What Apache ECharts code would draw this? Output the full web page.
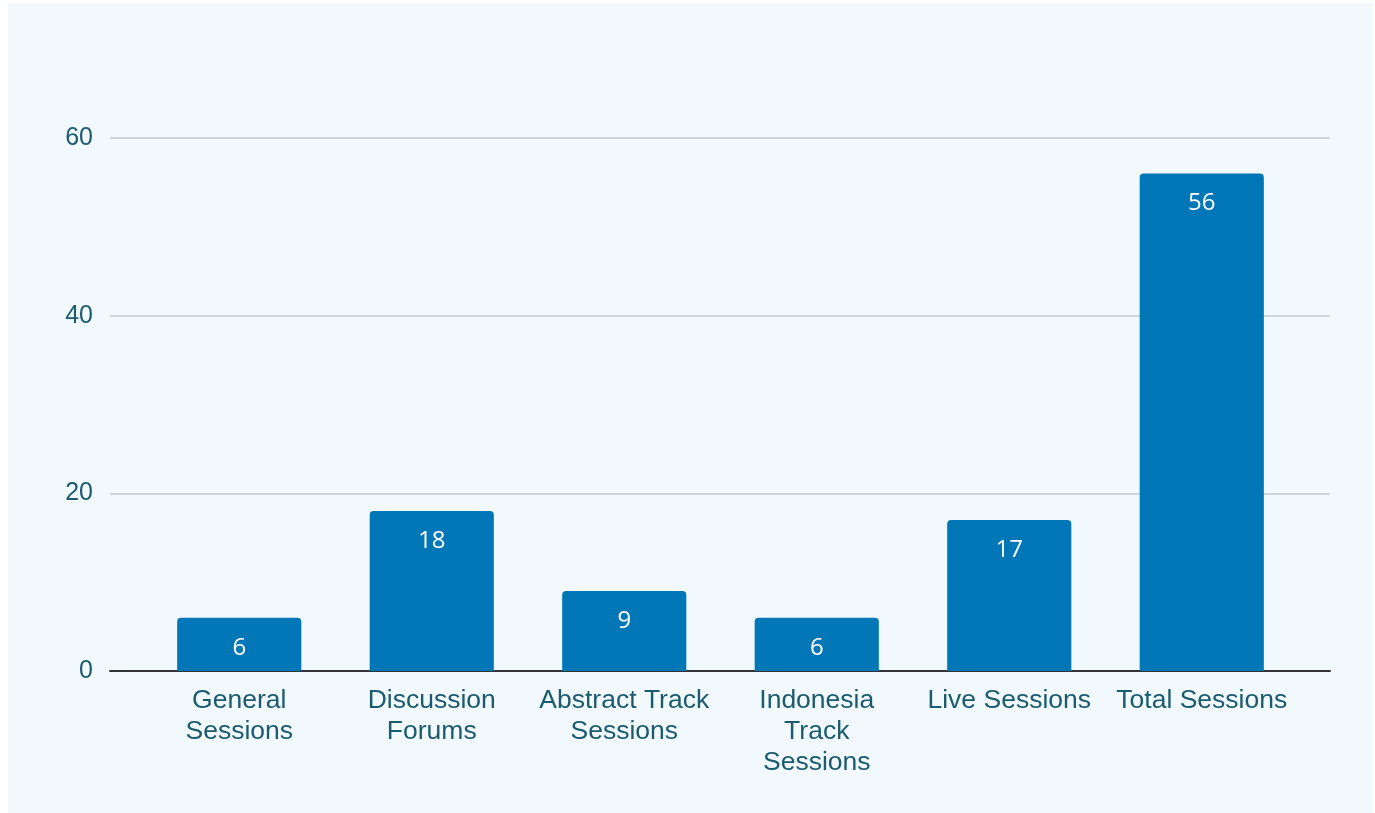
<!DOCTYPE html>
<html>
<head>
<meta charset="utf-8">
<script src="https://cdn.jsdelivr.net/npm/echarts@6/dist/echarts.min.js"></script>
<style>
html,body{margin:0;padding:0;background:#ffffff;}
#wrap{position:absolute;left:8px;top:3px;width:1365px;height:810px;background:#f2f9fd;}
#main{position:absolute;left:-8px;top:-3px;width:1375px;height:813px;}
</style>
</head>
<body>
<div id="wrap"><div id="main"></div></div>
<script>
const categories = ['General\nSessions', 'Discussion\nForums', 'Abstract Track\nSessions', 'Indonesia\nTrack\nSessions', 'Live Sessions', 'Total Sessions'];
const sessionCounts = [6, 18, 9, 6, 17, 56];
const yTicks = [0, 20, 40, 60];

const chart = echarts.init(document.getElementById('main'));
const textColor = '#1b5b70';
const labelFont = '"Liberation Sans", Arial, sans-serif';
chart.setOption({
  backgroundColor: 'transparent',
  animation: false,
  grid: [
    {left: 143, right: 77, top: 138, bottom: 142},
    {left: 110, right: 45, top: 138, bottom: 142}
  ],
  xAxis: [
    {
      type: 'category', gridIndex: 0, data: categories,
      axisLine: {show: false}, axisTick: {show: false},
      axisLabel: {color: textColor, fontSize: 26.5, lineHeight: 31, margin: 14, interval: 0, fontFamily: labelFont}
    },
    {
      type: 'category', gridIndex: 1, data: [''],
      axisLine: {show: true, lineStyle: {color: '#333333', width: 2}},
      axisTick: {show: false}, axisLabel: {show: false}
    }
  ],
  yAxis: [
    {type: 'value', gridIndex: 0, min: 0, max: 60, interval: 20, show: false, splitLine: {show: false}},
    {
      type: 'value', gridIndex: 1, min: yTicks[0], max: yTicks[yTicks.length - 1], interval: 20,
      axisLine: {show: false}, axisTick: {show: false},
      axisLabel: {color: textColor, fontSize: 25, margin: 17, fontFamily: labelFont},
      splitLine: {lineStyle: {color: '#c3c8cd', width: 1.5}}
    }
  ],
  series: [{
    type: 'bar', xAxisIndex: 0, yAxisIndex: 0,
    data: sessionCounts,
    barCategoryGap: '35.5%',
    itemStyle: {color: '#0277b8', borderRadius: [4, 4, 0, 0]},
    label: {show: true, position: 'insideTop', distance: 18, color: '#ffffff', fontSize: 24, fontFamily: '"Open Sans", sans-serif'},
    z: 3
  }]
});
</script>
</body>
</html>
